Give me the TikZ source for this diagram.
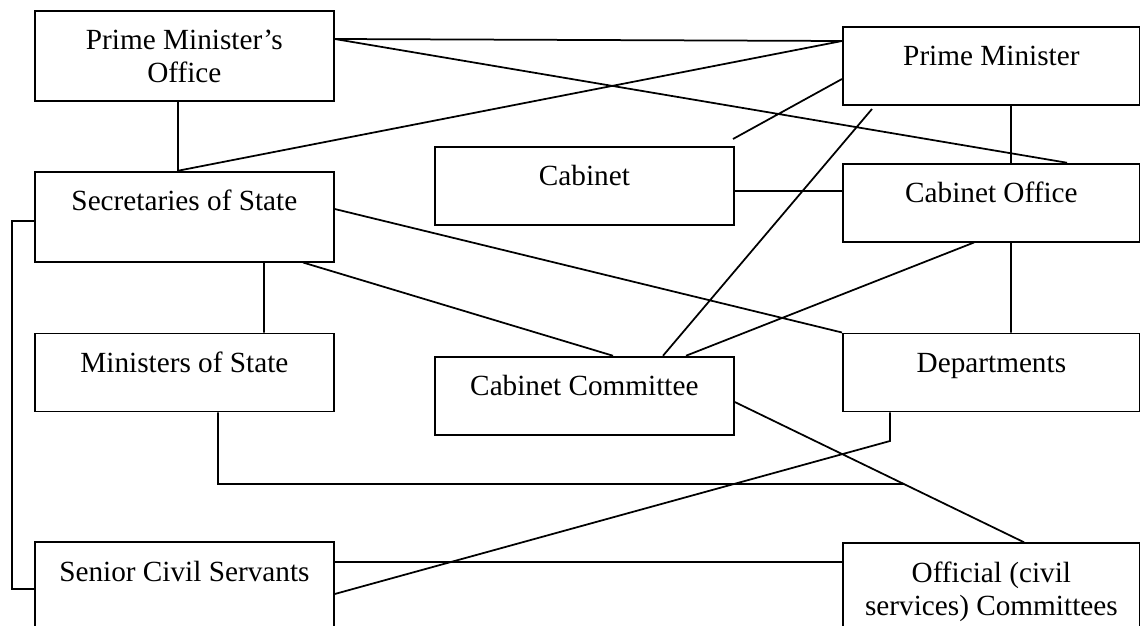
\documentclass[tikz,border=0pt]{standalone}
\usepackage{fontspec}
\setmainfont{Liberation Serif}
\usetikzlibrary{positioning}

\begin{document}
\begin{tikzpicture}[
    x = 0.4pt, y = -0.4pt,
    boks/.style = {rectangle, draw, line width=0.7pt, inner sep=0pt,
      minimum width=119.6pt, text height=15.6pt, text depth=15.6pt, align=center},
    hoej/.style = {text depth=20.4pt},
    lang/.style = {text depth=60pt},
    toline/.style = {text height=28.8pt},
    smal/.style = {minimum width=118.8pt},
    linje/.style = {black, line width=0.7pt},
    font=\fontsize{11.7}{13.2}\selectfont
    ]

  \useasboundingbox (0,0) rectangle (1140,626);
  \clip (0,0) rectangle (1140,626);

  \node[boks,toline,text depth=7.2pt,anchor=north west] (pmo) at (34,10) {Prime Minister's\\Office} ;
  \node[boks,hoej] (sos) [below=27.6pt of pmo] {Secretaries of State} ;
  \node[boks] (mos) [below=28pt of sos] {Ministers of State} ;
  \node[boks,lang] (scs) [below=51.6pt of mos] {Senior Civil Servants} ;

  \node[boks,smal,anchor=north west] (pm) at (842,26) {Prime Minister} ;
  \node[boks,smal] (co) [below=22.8pt of pm] {Cabinet Office} ;
  \node[boks,smal] (dep) [below=36pt of co] {Departments} ;
  \node[boks,smal,toline,lang] (off) [below=52pt of dep] {Official (civil\\services) Committees} ;

  \node[boks,anchor=north west] (cab) at (434,146) {Cabinet} ;
  \node[boks] (cc) [below=52pt of cab] {Cabinet Committee} ;

  \coordinate (cabtip) at (733,139) ;
  \coordinate (pmtip) at (872,109) ;
  \coordinate (mosend) at (903,484) ;
  \coordinate (depknee) at (890,441) ;

  \draw[linje]
  (pmo.east |- 0,39) -- (pm.west |- 0,41)
  (pmo.east |- 0,39) -- (1067,0 |- co.north)
  (178,0 |- pmo.south) -- (178,0 |- sos.north)
  (178,0 |- sos.north) -- (pm.west |- 0,41)

  (sos.west |- 0,221) -- ++(-22,0) |- (scs.west |- 0,589)
  (sos.east |- 0,209) -- (dep.north west)
  (264,0 |- sos.south) -- (264,0 |- mos.north)
  (303,0 |- sos.south) -- (613,0 |- cc.north)
  (218,0 |- mos.south) |- (mosend)

  (scs.east |- 0,562) -- (off.west |- 0,562)
  (scs.east |- 0,594) -- (depknee) -- (depknee |- dep.south)

  (cab.east |- 0,191) -- (co.west |- 0,191)
  (cabtip) -- (pm.west |- 0,79)

  (1011,0 |- pm.south) -- (1011,0 |- co.north)
  (1011,0 |- co.south) -- (1011,0 |- dep.north)
  (974,0 |- co.south) -- (686,0 |- cc.north)
  (pmtip) -- (663,0 |- cc.north)
  (cc.east |- 0,402) -- (1024,0 |- off.north);

\end{tikzpicture}
\end{document}
